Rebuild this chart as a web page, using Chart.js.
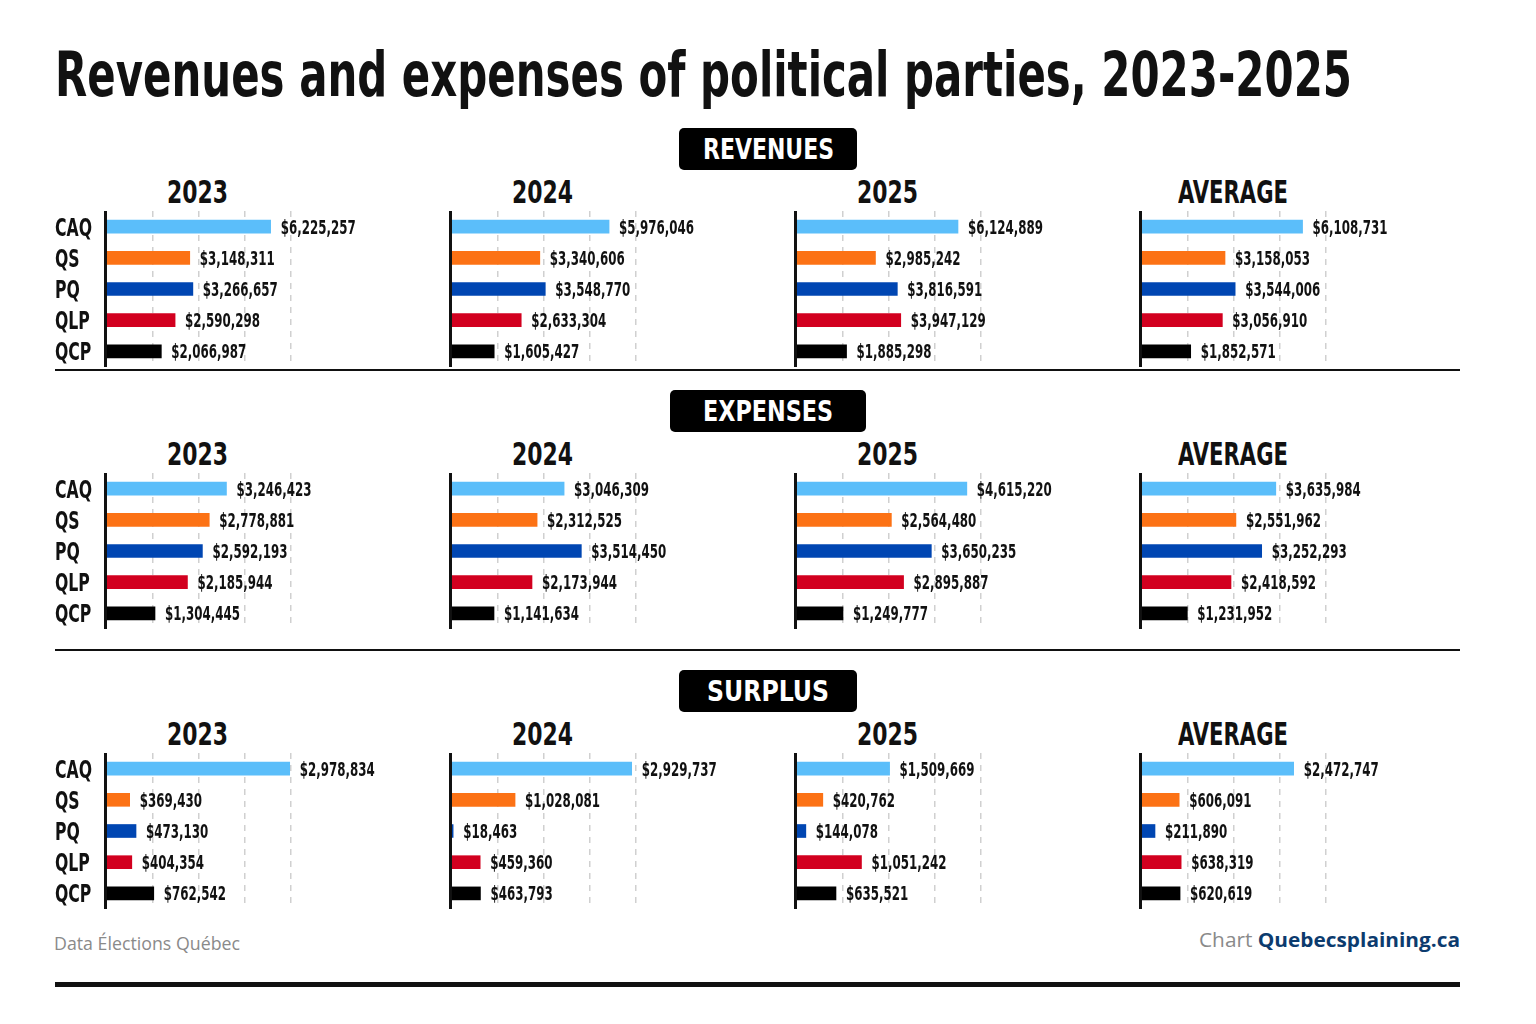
<!DOCTYPE html>
<html>
<head>
<meta charset="utf-8">
<script src="https://cdn.jsdelivr.net/npm/chart.js@4.4.1/dist/chart.umd.min.js"></script>
<style>
  body { margin: 0; width: 1536px; height: 1024px; background: #fff; position: relative; overflow: hidden; }
  .txt { position: absolute; white-space: nowrap; transform-origin: 0 0; }
  .rule { position: absolute; background: #111; left: 55px; width: 1405px; }
  .badge { position: absolute; background: #000; border-radius: 5px; height: 42px; }
  canvas { position: absolute; }
</style>
</head>
<body>
<div class="rule" style="top:369px;height:2px"></div>
<div class="rule" style="top:649px;height:2px"></div>
<div class="rule" style="top:982px;height:5px"></div>

<script>
var title = 'Revenues and expenses of political parties, 2023-2025';
var sections = ['REVENUES', 'EXPENSES', 'SURPLUS'];
var columns = ['2023', '2024', '2025', 'AVERAGE'];
var parties = ['CAQ', 'QS', 'PQ', 'QLP', 'QCP'];
var partyColors = ['#5bbefa', '#fc7215', '#0046b2', '#d2001f', '#000000'];

var revenues2023 = [6225257, 3148311, 3266657, 2590298, 2066987];
var revenues2024 = [5976046, 3340606, 3548770, 2633304, 1605427];
var revenues2025 = [6124889, 2985242, 3816591, 3947129, 1885298];
var revenuesAvg  = [6108731, 3158053, 3544006, 3056910, 1852571];

var expenses2023 = [3246423, 2778881, 2592193, 2185944, 1304445];
var expenses2024 = [3046309, 2312525, 3514450, 2173944, 1141634];
var expenses2025 = [4615220, 2564480, 3650235, 2895887, 1249777];
var expensesAvg  = [3635984, 2551962, 3252293, 2418592, 1231952];

var surplus2023 = [2978834, 369430, 473130, 404354, 762542];
var surplus2024 = [2929737, 1028081, 18463, 459360, 463793];
var surplus2025 = [1509669, 420762, 144078, 1051242, 635521];
var surplusAvg  = [2472747, 606091, 211890, 638319, 620619];

// last dashed gridline of each section (4 gridlines each)
var gridMax = [7000000, 5000000, 3000000];

var sourceText = 'Data Élections Québec';
var creditText = 'Chart';
var creditSite = 'Quebecsplaining.ca';

var table = [
  [revenues2023, revenues2024, revenues2025, revenuesAvg],
  [expenses2023, expenses2024, expenses2025, expensesAvg],
  [surplus2023, surplus2024, surplus2025, surplusAvg]
];

// ---- layout ----
var COND = '"Liberation Sans Narrow", "DejaVu Sans Condensed", "Roboto Condensed", Roboto, sans-serif';
var SANS = '"Open Sans", "Noto Sans", sans-serif';
var sectionTop = [211, 473, 753];
var badgeW = [178, 196, 178];
var colStep = 345;
var plotW = 330;          // chart area width of each small panel
var gridSpan = 184;       // pixels from origin to last gridline
var rowsH = 156;

var mctx = document.createElement('canvas').getContext('2d');
function metrics(weight, family) {
  mctx.font = weight + ' 100px ' + family;
  var m = mctx.measureText('H');
  return { cap: m.actualBoundingBoxAscent / 100, fa: m.fontBoundingBoxAscent / 100, fd: m.fontBoundingBoxDescent / 100 };
}

// html text placed by cap height, baseline and final width
function addText(html, o) {
  var m = metrics(o.weight, o.family);
  var F = o.cap / m.cap;
  var el = document.createElement('div');
  el.className = 'txt';
  el.innerHTML = html;
  el.style.fontFamily = o.family;
  el.style.fontWeight = o.weight;
  el.style.fontSize = F + 'px';
  el.style.lineHeight = F + 'px';
  el.style.color = o.color;
  el.style.top = (o.base - ((F - m.fa * F - m.fd * F) / 2 + m.fa * F)) + 'px';
  document.body.appendChild(el);
  var w = el.getBoundingClientRect().width;
  el.style.transform = 'scaleX(' + (o.width / w) + ')';
  var left = o.x;
  if (o.align === 'center') left = o.x - o.width / 2;
  if (o.align === 'right') left = o.x - o.width;
  el.style.left = left + 'px';
  return el;
}

addText(title, { family: COND, weight: 'bold', cap: 46, base: 96, x: 55, width: 1297, color: '#111' });

sections.forEach(function(name, s) {
  var b = document.createElement('div');
  b.className = 'badge';
  b.style.top = (sectionTop[s] - 83) + 'px';
  b.style.left = (768 - badgeW[s] / 2) + 'px';
  b.style.width = badgeW[s] + 'px';
  document.body.appendChild(b);
  addText(name, { family: COND, weight: 'bold', cap: 21, base: sectionTop[s] - 52, x: 768,
    width: [131, 130, 122][s], align: 'center', color: '#fff' });
  columns.forEach(function(col, c) {
    addText(col, { family: COND, weight: 'bold', cap: 23, base: sectionTop[s] - 7, x: 197.5 + colStep * c,
      width: col.length > 4 ? 110 : 61, align: 'center', color: '#111' });
  });
});

addText(sourceText, { family: SANS, weight: 'normal', cap: 13.5, base: 950, x: 54, width: 186, color: '#8a8a8a' });
addText(creditText + ' <b style="color:#0c3b6e">' + creditSite + '</b>',
  { family: SANS, weight: 'normal', cap: 14.5, base: 948, x: 1460, width: 261, align: 'right', color: '#8a8a8a' });

// ---- canvas text helpers ----
var valM = metrics('bold', COND), partyM = metrics('bold', COND);
var valFont = 'bold ' + (14 / valM.cap) + 'px ' + COND;
var partyFont = 'bold ' + (18 / partyM.cap) + 'px ' + COND;
mctx.font = valFont;  var valSX = 75 / mctx.measureText('$6,225,257').width;
mctx.font = partyFont; var partySX = 37 / mctx.measureText('CAQ').width;

function money(v) { return '$' + v.toLocaleString('en-US'); }

var panelPlugin = {
  id: 'panel',
  afterDatasetsDraw: function(chart) {
    var ctx = chart.ctx, area = chart.chartArea;
    ctx.save();
    ctx.strokeStyle = '#111';
    ctx.lineWidth = 3;
    ctx.beginPath();
    ctx.moveTo(area.left - 1.5, area.top);
    ctx.lineTo(area.left - 1.5, area.bottom + 2);
    ctx.stroke();

    ctx.fillStyle = '#111';
    ctx.textBaseline = 'alphabetic';
    var meta = chart.getDatasetMeta(0);
    var vals = chart.data.datasets[0].data;
    meta.data.forEach(function(bar, i) {
      ctx.font = valFont;
      ctx.save();
      ctx.translate(bar.x + 10, bar.y + 7);
      ctx.scale(valSX, 1);
      ctx.fillText(money(vals[i]), 0, 0);
      ctx.restore();
    });
    if (chart.options.showParties) {
      var y = chart.scales.y;
      chart.data.labels.forEach(function(lab, i) {
        ctx.font = partyFont;
        ctx.save();
        ctx.translate(3, y.getPixelForValue(i) + 9);
        ctx.scale(partySX, 1);
        ctx.fillText(lab, 0, 0);
        ctx.restore();
      });
    }
    ctx.restore();
  }
};

table.forEach(function(row, s) {
  row.forEach(function(values, c) {
    var cv = document.createElement('canvas');
    cv.width = 55 + plotW;
    cv.height = rowsH;
    cv.style.left = (52 + colStep * c) + 'px';
    cv.style.top = sectionTop[s] + 'px';
    document.body.appendChild(cv);
    var gm = gridMax[s];
    new Chart(cv, {
      type: 'bar',
      data: {
        labels: parties,
        datasets: [{ data: values, backgroundColor: partyColors, barThickness: 13, borderWidth: 0 }]
      },
      options: {
        indexAxis: 'y',
        responsive: false,
        animation: false,
        showParties: c === 0,
        layout: { padding: { left: 55, top: 0, right: 0, bottom: 0 } },
        plugins: { legend: { display: false }, tooltip: { enabled: false } },
        scales: {
          x: {
            min: 0,
            max: gm * plotW / gridSpan,
            afterBuildTicks: function(axis) {
              axis.ticks = [1, 2, 3, 4].map(function(k) { return { value: gm * k / 4 }; });
            },
            ticks: { display: false },
            grid: { color: '#d0d0d0', lineWidth: 1.5, drawTicks: false },
            border: { display: false, dash: [6, 6] }
          },
          y: { display: false, grid: { display: false } }
        }
      },
      plugins: [panelPlugin]
    });
  });
});
</script>
</body>
</html>
